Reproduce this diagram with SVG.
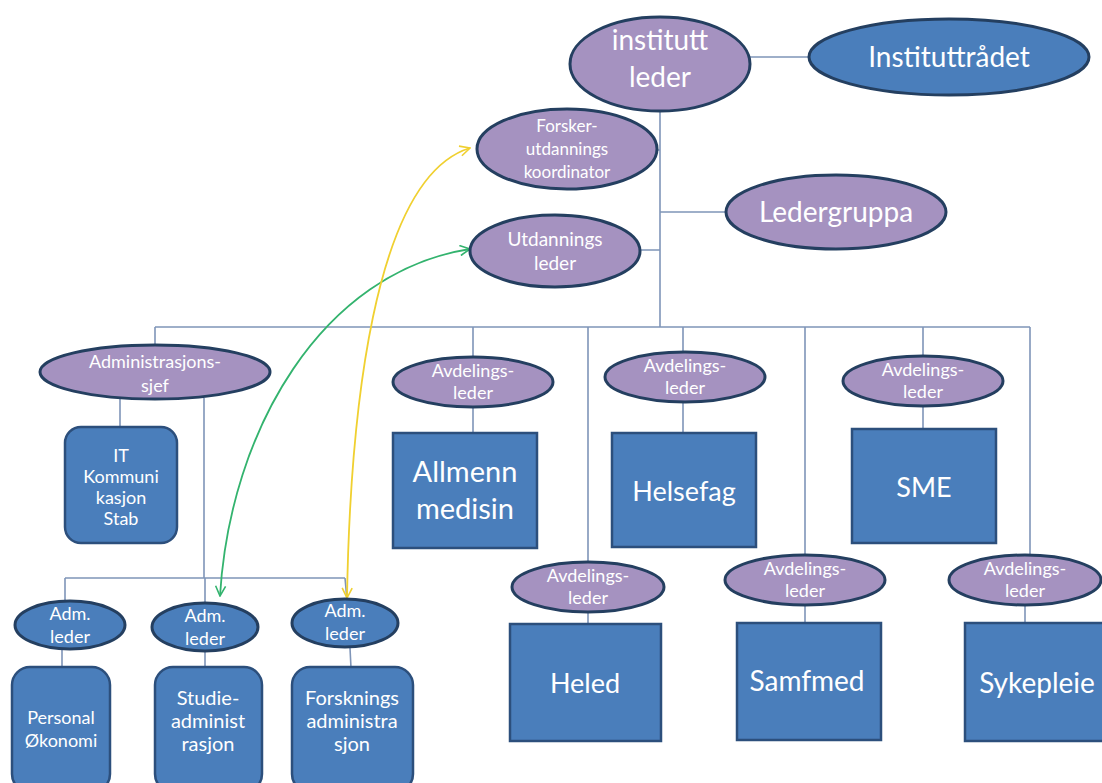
<svg xmlns="http://www.w3.org/2000/svg" width="1102" height="783" viewBox="0 0 1102 783">
<style>
.p{fill:#a592c0;stroke:#243f60;stroke-width:3}
.b{fill:#4a7ebb;stroke:#243f60;stroke-width:3}
.bx{fill:#4a7ebb;stroke:#2c4f7c;stroke-width:2.5}
.ln{fill:none;stroke:#7f95b8;stroke-width:1.6}
text{font-family:Lato,"Open Sans","Liberation Sans",sans-serif;fill:#fff;text-anchor:middle}
.s17{font-size:17px}.s18{font-size:18px}.s19{font-size:19px}.s20{font-size:20px}.s27{font-size:27px}.s28{font-size:28px}.s29{font-size:29px}
</style>
<defs>
<marker id="mg" viewBox="0 0 12 12" refX="11" refY="6" markerWidth="12" markerHeight="12" markerUnits="userSpaceOnUse" orient="auto-start-reverse"><polyline points="1,1 11,6 1,11" fill="none" stroke="#33b36e" stroke-width="1.6"/></marker>
<marker id="my" viewBox="0 0 12 12" refX="11" refY="6" markerWidth="12" markerHeight="12" markerUnits="userSpaceOnUse" orient="auto-start-reverse"><polyline points="1,1 11,6 1,11" fill="none" stroke="#f0d030" stroke-width="1.6"/></marker>
</defs>
<rect width="1102" height="783" fill="#fff"/>
<g id="connectors">
<path class="ln" d="M750,57H809 M660,110V327 M650,150H660 M640,250H660 M660,212H727 M155,327H1030 M155,327V345 M473,327V357 M588,327V563 M683,327V352 M805,327V556 M923,327V356 M1030,327V556 M120,399V427 M204,398V578 M65,578H345 M65,578V602 M205,578V603 M345,578L347,600 M62,648V668 M205,652V668 M350,648L351,668 M473,407V433 M683,402V433 M923,406V429 M588,612V623 M805,605V623 M1025,605V623"/>
<path d="M220,596 C230,430 322,272 470,249" fill="none" stroke="#33b36e" stroke-width="1.8" marker-start="url(#mg)" marker-end="url(#mg)"/>
<path d="M347,598 C350,420 372,178 470,148" fill="none" stroke="#f0d030" stroke-width="1.8" marker-start="url(#my)" marker-end="url(#my)"/>
</g>
<g id="institutt-leder"><ellipse class="p" cx="660" cy="64" rx="90" ry="47"/><text class="s28" x="660" y="50">institutt</text><text class="s28" x="660" y="87">leder</text></g>
<g id="instituttradet"><ellipse class="b" cx="949" cy="57" rx="140" ry="38"/><text class="s28" x="949" y="67">Instituttrådet</text></g>
<g id="forsker"><ellipse class="p" cx="567" cy="149" rx="90" ry="40"/><text class="s17" x="567" y="132">Forsker-</text><text class="s17" x="567" y="155">utdannings</text><text class="s17" x="567" y="178">koordinator</text></g>
<g id="ledergruppa"><ellipse class="p" cx="836" cy="212" rx="110" ry="37"/><text class="s28" x="836" y="222">Ledergruppa</text></g>
<g id="utdanningsleder"><ellipse class="p" cx="555" cy="251" rx="85" ry="36"/><text class="s19" x="555" y="246">Utdannings</text><text class="s19" x="555" y="270">leder</text></g>
<g id="adminsjef"><ellipse class="p" cx="155" cy="372" rx="115" ry="27"/><text class="s18" x="155" y="368">Administrasjons-</text><text class="s18" x="155" y="392">sjef</text></g>
<g id="it"><rect class="bx" x="65" y="427" width="112" height="116" rx="16"/><text class="s18" x="121" y="462">IT</text><text class="s18" x="121" y="483">Kommuni</text><text class="s18" x="121" y="504">kasjon</text><text class="s18" x="121" y="525">Stab</text></g>
<g id="adm1"><ellipse class="b" cx="70" cy="625" rx="55" ry="24"/><text class="s18" x="70" y="620">Adm.</text><text class="s18" x="70" y="643">leder</text></g>
<g id="adm2"><ellipse class="b" cx="205" cy="627" rx="53" ry="24"/><text class="s18" x="205" y="622">Adm.</text><text class="s18" x="205" y="645">leder</text></g>
<g id="adm3"><ellipse class="b" cx="345" cy="623" rx="53" ry="24"/><text class="s18" x="345" y="617">Adm.</text><text class="s18" x="345" y="640">leder</text></g>
<g id="personal"><rect class="bx" x="12" y="667" width="98" height="125" rx="18"/><text class="s18" x="61" y="724">Personal</text><text class="s18" x="61" y="747">Økonomi</text></g>
<g id="studie"><rect class="bx" x="155" y="667" width="107" height="125" rx="18"/><text class="s20" x="208" y="705">Studie-</text><text class="s20" x="208" y="728">administ</text><text class="s20" x="208" y="751">rasjon</text></g>
<g id="forskning"><rect class="bx" x="292" y="667" width="121" height="125" rx="18"/><text class="s20" x="352" y="705">Forsknings</text><text class="s20" x="352" y="728">administra</text><text class="s20" x="352" y="751">sjon</text></g>
<g id="avd1"><ellipse class="p" cx="473" cy="382" rx="80" ry="25"/><text class="s18" x="473" y="377">Avdelings-</text><text class="s18" x="473" y="399">leder</text></g>
<g id="allmenn"><rect class="bx" x="393" y="433" width="144" height="115"/><text class="s29" x="465" y="482">Allmenn</text><text class="s29" x="465" y="519">medisin</text></g>
<g id="avd2"><ellipse class="p" cx="685" cy="377" rx="80" ry="25"/><text class="s18" x="685" y="372">Avdelings-</text><text class="s18" x="685" y="394">leder</text></g>
<g id="helsefag"><rect class="bx" x="612" y="433" width="144" height="114"/><text class="s27" x="684" y="501">Helsefag</text></g>
<g id="avd3"><ellipse class="p" cx="923" cy="381" rx="80" ry="25"/><text class="s18" x="923" y="376">Avdelings-</text><text class="s18" x="923" y="398">leder</text></g>
<g id="sme"><rect class="bx" x="852" y="429" width="144" height="114"/><text class="s27" x="924" y="497">SME</text></g>
<g id="avd4"><ellipse class="p" cx="588" cy="587" rx="76" ry="25"/><text class="s18" x="588" y="582">Avdelings-</text><text class="s18" x="588" y="604">leder</text></g>
<g id="heled"><rect class="bx" x="510" y="624" width="151" height="117"/><text class="s27" x="585" y="693">Heled</text></g>
<g id="avd5"><ellipse class="p" cx="805" cy="580" rx="80" ry="25"/><text class="s18" x="805" y="575">Avdelings-</text><text class="s18" x="805" y="597">leder</text></g>
<g id="samfmed"><rect class="bx" x="737" y="623" width="144" height="117"/><text class="s28" x="807" y="691">Samfmed</text></g>
<g id="avd6"><ellipse class="p" cx="1025" cy="580" rx="76" ry="25"/><text class="s18" x="1025" y="575">Avdelings-</text><text class="s18" x="1025" y="597">leder</text></g>
<g id="sykepleie"><rect class="bx" x="965" y="623" width="145" height="118"/><text class="s28" x="1037" y="693">Sykepleie</text></g>
</svg>
